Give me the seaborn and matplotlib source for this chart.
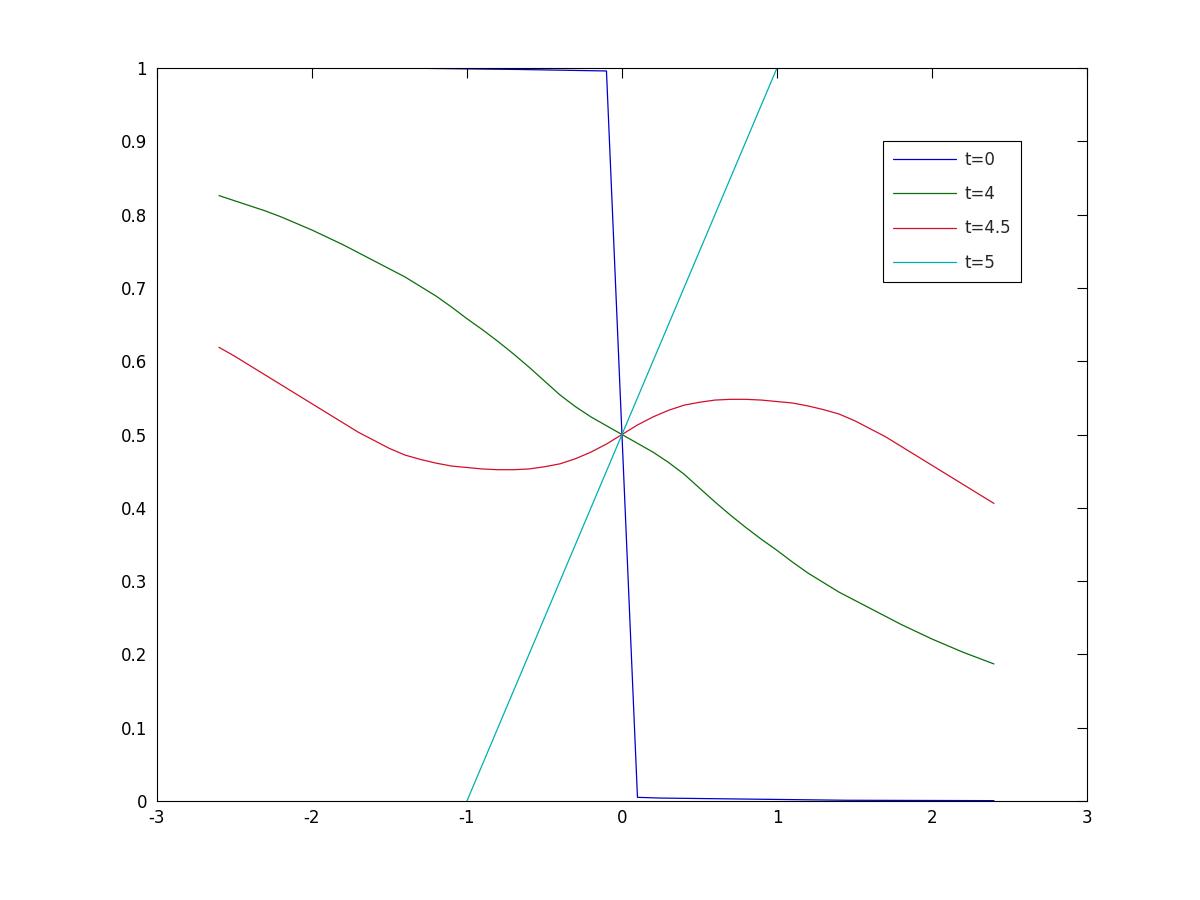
import matplotlib
matplotlib.use("Agg")
import matplotlib.pyplot as plt
import seaborn as sns
import pandas as pd

# ---- data ----
x_t0 = [-2.6, -1.45, -0.65, -0.1, 0.0, 0.1, 0.25, 0.65, 1.45, 2.4]
y_t0 = [1.0, 1.0, 0.998, 0.996, 0.5, 0.005, 0.004, 0.003, 0.001, 0.0005]

x_smooth = [-2.6, -2.5, -2.4, -2.3, -2.2, -2.1, -2.0, -1.9, -1.8, -1.7, -1.6, -1.5, -1.4,
            -1.3, -1.2, -1.1, -1.0, -0.9, -0.8, -0.7, -0.6, -0.5, -0.4, -0.3, -0.2, -0.1,
            0.0, 0.1, 0.2, 0.3, 0.4, 0.5, 0.6, 0.7, 0.8, 0.9, 1.0, 1.1, 1.2, 1.3, 1.4,
            1.5, 1.6, 1.7, 1.8, 1.9, 2.0, 2.1, 2.2, 2.3, 2.4]
y_t4 = [0.826, 0.819, 0.812, 0.805, 0.797, 0.788, 0.779, 0.769, 0.759, 0.748, 0.737, 0.726, 0.715,
        0.702, 0.689, 0.674, 0.658, 0.643, 0.627, 0.610, 0.592, 0.573, 0.554, 0.538, 0.524, 0.512,
        0.500, 0.488, 0.476, 0.462, 0.446, 0.427, 0.408, 0.390, 0.373, 0.357, 0.342, 0.326, 0.311,
        0.298, 0.285, 0.274, 0.263, 0.252, 0.241, 0.231, 0.221, 0.212, 0.203, 0.195, 0.187]
y_t45 = [0.619, 0.607, 0.594, 0.581, 0.568, 0.555, 0.542, 0.529, 0.516, 0.503, 0.492, 0.481, 0.472,
         0.466, 0.461, 0.457, 0.455, 0.453, 0.452, 0.452, 0.453, 0.456, 0.460, 0.467, 0.476, 0.487,
         0.500, 0.513, 0.524, 0.533, 0.540, 0.544, 0.547, 0.548, 0.548, 0.547, 0.545, 0.543, 0.539,
         0.534, 0.528, 0.519, 0.508, 0.497, 0.484, 0.471, 0.458, 0.445, 0.432, 0.419, 0.406]

x_t5 = [-1.0, 0.0, 1.0]
y_t5 = [0.0, 0.5, 1.0]

labels = ["t=0", "t=4", "t=4.5", "t=5"]
colors = ["#0000cc", "#0a6e0a", "#d0102a", "#00b0b0"]

x_ticks = [-3, -2, -1, 0, 1, 2, 3]
y_ticks = [0, 0.1, 0.2, 0.3, 0.4, 0.5, 0.6, 0.7, 0.8, 0.9, 1]
y_ticklabels = ["0", "0.1", "0.2", "0.3", "0.4", "0.5", "0.6", "0.7", "0.8", "0.9", "1"]

# ---- plotting ----
sns.set_style("white")
plt.rcParams["font.family"] = ["DejaVu Sans"]

fig = plt.figure(figsize=(12, 9), dpi=100)
ax = fig.add_axes([0.1308, 0.11, 0.775, 0.8144])

series = [(x_t0, y_t0), (x_smooth, y_t4), (x_smooth, y_t45), (x_t5, y_t5)]
for (xs, ys), lab, col in zip(series, labels, colors):
    df = pd.DataFrame({"x": xs, "y": ys})
    sns.lineplot(data=df, x="x", y="y", ax=ax, color=col, label=lab,
                 linewidth=0.9, sort=False, estimator=None)

ax.set_xlim(-3, 3)
ax.set_ylim(0, 1)
ax.set_xticks(x_ticks)
ax.set_xticklabels([str(v) for v in x_ticks])
ax.set_yticks(y_ticks)
ax.set_yticklabels(y_ticklabels)
ax.set_xlabel("")
ax.set_ylabel("")

for sp in ax.spines.values():
    sp.set_visible(True)
    sp.set_color("black")
    sp.set_linewidth(0.8)

ax.tick_params(direction="in", top=True, right=True, length=7, width=0.8,
               colors="black", labelsize=12)
ax.tick_params(axis="x", pad=5.5)
ax.tick_params(axis="y", pad=7)

leg = ax.legend(loc="upper right", bbox_to_anchor=(0.929, 0.9004), fontsize=12,
                frameon=True, fancybox=False, shadow=False, framealpha=1,
                handlelength=3.8, handletextpad=0.5, labelspacing=0.97,
                borderpad=0.6, borderaxespad=0)
leg.get_frame().set_edgecolor("black")
leg.get_frame().set_linewidth(0.8)

fig.savefig("out.png", dpi=100, facecolor="white")
